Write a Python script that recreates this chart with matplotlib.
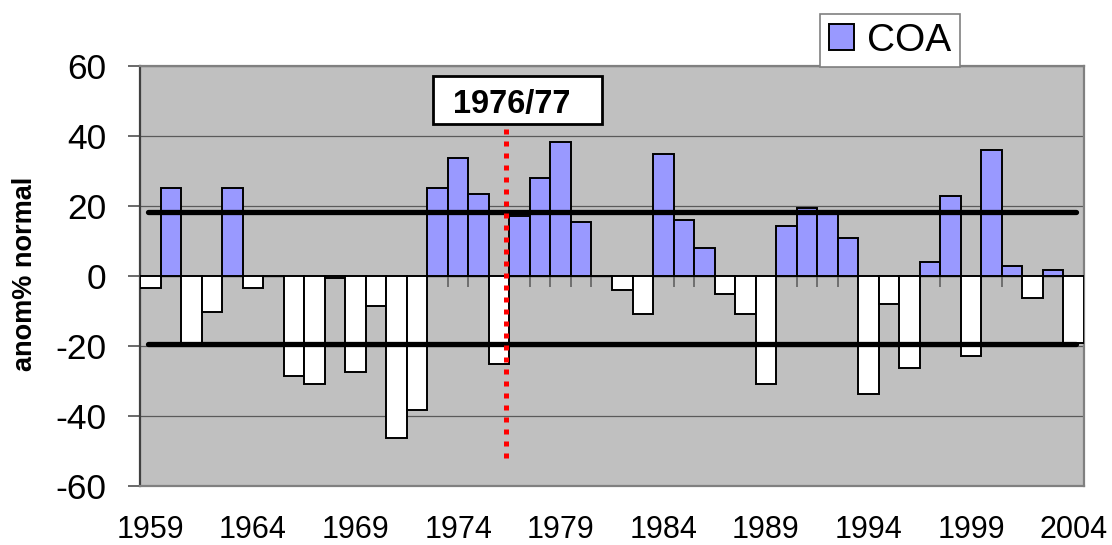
import matplotlib
matplotlib.use("Agg")
import matplotlib.pyplot as plt
from matplotlib.patches import Patch, Rectangle
from matplotlib.transforms import Bbox

plt.rcParams['font.family'] = ['Liberation Sans', 'DejaVu Sans']
plt.rcParams['axes.unicode_minus'] = False

years = list(range(1959, 2005))
coa = [-3.5, 25.2, -19.7, -10.3, 25.2, -3.4, 0.0, -28.5, -30.8, -0.7,
       -27.3, -8.5, -46.3, -38.3, 25.2, 33.8, 23.5, -25.1, 17.2, 28.1,
       38.4, 15.5, 0.0, -4.0, -10.9, 34.9, 16.1, 8.0, -5.2, -10.9,
       -30.8, 14.3, 19.5, 18.0, 10.9, -33.7, -7.9, -26.3, 3.9, 22.9,
       -22.9, 36.0, 2.9, -6.2, 1.7, -19.2]
upper = 18.4
lower = -19.4
shift_label = "1976/77"
shift_pos = 17.34   # category position of the 1976/77 break

W, H = 1112, 545
fig = plt.figure(figsize=(W / 100, H / 100), dpi=100)
ax = fig.add_axes([140 / W, 1 - 486 / H, (1084 - 140) / W, (486 - 66) / H])
ax.set_facecolor('#c0c0c0')

x = list(range(len(years)))
colors = ['#9999ff' if v > 0 else 'white' for v in coa]
ax.bar(x, coa, width=1.0, color=colors, edgecolor='black', linewidth=1.4, zorder=3)

# category tick marks at the zero axis
ax.vlines([i - 0.5 for i in range(1, len(years))], -3.0, 0, color='#606060', lw=1.2, zorder=2)
ax.axhline(0, color='#606060', lw=1.0, zorder=2)

ax.plot([-0.1, 45.1], [upper, upper], color='black', lw=3.8, solid_capstyle='round', zorder=4)
ax.plot([-0.1, 45.1], [lower, lower], color='black', lw=3.8, solid_capstyle='round', zorder=4)

ax.plot([shift_pos, shift_pos], [-52, 43.4], color='red', lw=3.6, linestyle=(0, (1.0, 1.4)),
        dash_capstyle='butt', zorder=5)

ax.set_xlim(-0.5, len(years) - 0.5)
ax.set_ylim(-60, 60)
ax.set_yticks(range(-60, 61, 20))
ax.yaxis.grid(True, color='#5a5a5a', lw=0.9)
ax.set_axisbelow(True)
ax.set_xticks(x[::5])
ax.set_xticklabels([str(y) for y in years[::5]], fontsize=22)
ax.tick_params(axis='x', length=0, pad=21)
ax.tick_params(axis='y', labelsize=25.5, length=9, width=1.2, color='#505050', pad=15)
for s in ax.spines.values():
    s.set_color('#808080')
    s.set_linewidth(1.6)
ax.spines['left'].set_color('#404040')

fig.text(25 / W, 1 - 273.5 / H, 'anom% normal', rotation=90, fontsize=19.5,
         fontweight='bold', ha='center', va='center')

# break annotation box
box = Rectangle((433 / W, 1 - 124 / H), (602 - 433) / W, (124 - 76) / H,
                transform=fig.transFigure, facecolor='white', edgecolor='black',
                lw=2.0, zorder=6)
fig.patches.append(box)
t = fig.text(512 / W, 1 - 105 / H, shift_label, fontsize=23.5, fontweight='bold',
             ha='center', va='center', zorder=7)
t.set_clip_box(Bbox.from_extents(433, H - 113.5, 602, H - 76))
t.set_clip_on(True)

leg = fig.legend(handles=[Patch(facecolor='#9999ff', edgecolor='black', lw=1.4, label='COA')],
                 loc='upper left', bbox_to_anchor=(820 / W, 1 - 14 / H), borderaxespad=0,
                 fontsize=28, handlelength=0.65, handleheight=0.65, handletextpad=0.35,
                 borderpad=0.22, fancybox=False, framealpha=1, edgecolor='#808080')
leg.get_frame().set_linewidth(1.2)

fig.savefig('out.png', dpi=100)
